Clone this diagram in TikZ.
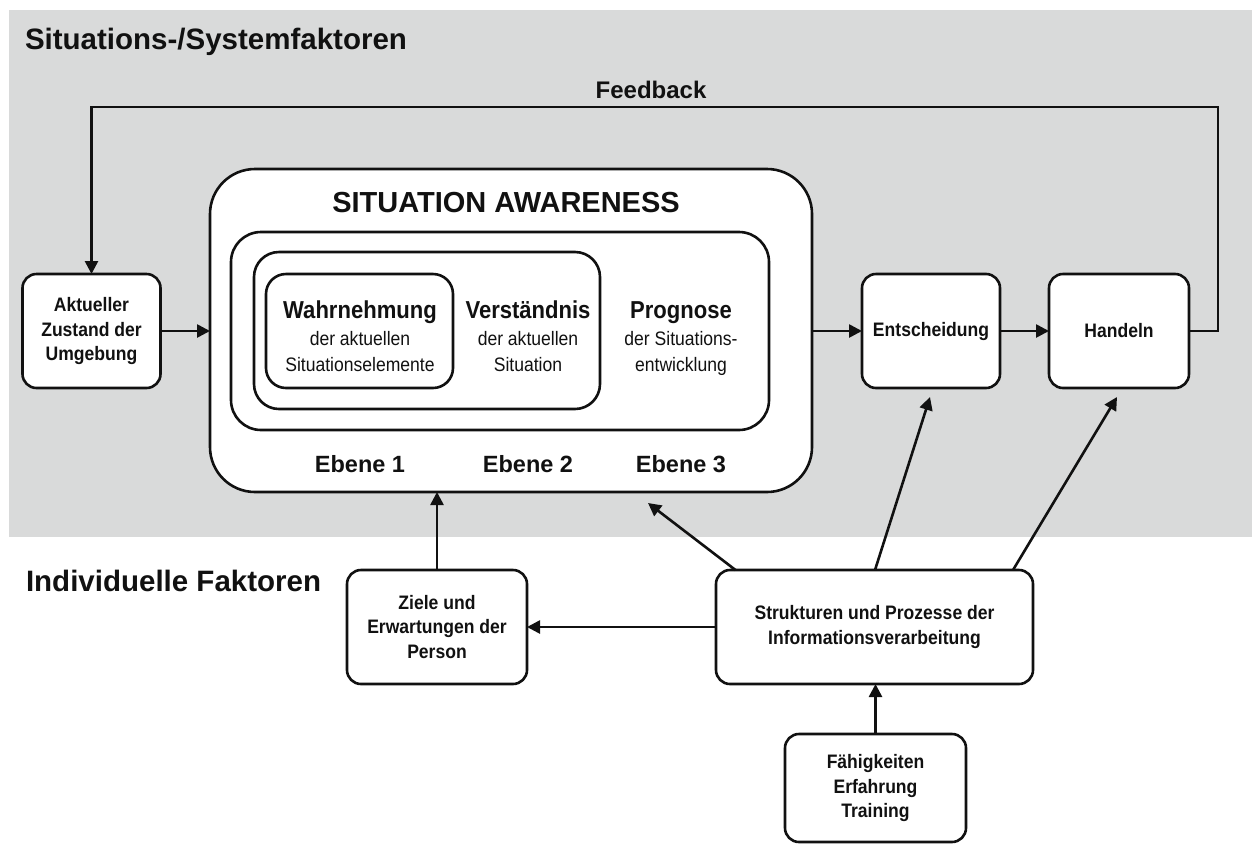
\documentclass[tikz,border=0pt]{standalone}
\usepackage{fontspec}
\setmainfont{Liberation Sans}
\newfontfamily\narrowsf[FakeStretch=0.9]{Liberation Sans}
\usetikzlibrary{arrows.meta,calc}

\definecolor{panelgray}{RGB}{217,218,218}
\definecolor{ink}{RGB}{17,17,17}

\begin{document}
\begin{tikzpicture}[x=1pt,y=-1pt,
  every node/.style={inner sep=0pt, outer sep=0pt, text=ink},
  box/.style={draw=ink, line width=2.6pt, rounded corners=14pt, fill=white,
    align=center, font=\narrowsf\bfseries\fontsize{19.5}{24.5}\selectfont},
  frame/.style={draw=ink, line width=2.6pt, fill=white},
  arr/.style={draw=ink, line width=2.6pt, -{Triangle[length=13pt,width=13pt]}},
  heading/.style={font=\bfseries\fontsize{29.5}{34}\selectfont, anchor=base west},
  levelhead/.style={font=\narrowsf\bfseries\fontsize{24.5}{28}\selectfont, anchor=base},
  levelsub/.style={font=\narrowsf\fontsize{19.5}{26}\selectfont, anchor=base},
  levelname/.style={font=\bfseries\fontsize{23.5}{28}\selectfont, anchor=base}
]
\useasboundingbox (0,0) rectangle (1252,844);

% background panel for situation/system factors
\fill[panelgray] (9,10) rectangle (1252,537);

% section titles
\node[heading] (tsys) at (25,49) {Situations-/Systemfaktoren};
\node[heading] (tind) at (26,591) {Individuelle Faktoren};

% situation awareness frames
\node[frame, rounded corners=45pt, minimum width=602pt, minimum height=323pt] (sa) at (511,330.5) {};
\node[frame, rounded corners=30pt, minimum width=538pt, minimum height=198pt] (lv3) at (500,331) {};
\node[frame, rounded corners=25pt, minimum width=346pt, minimum height=157pt] (lv2) at (427,330.5) {};
\node[frame, rounded corners=20pt, minimum width=187pt, minimum height=114pt] (lv1) at (359.5,331) {};

\node[font=\bfseries\fontsize{29}{34}\selectfont, anchor=base] (satitle) at (506,212) {SITUATION AWARENESS};

\node[levelhead] (wahr) at (360,318) {Wahrnehmung};
\node[levelsub] (wahr1) at (360,345) {der aktuellen};
\node[levelsub] (wahr2) at (360,371) {Situationselemente};

\node[levelhead] (vers) at (528,318) {Verständnis};
\node[levelsub] (vers1) at (528,345) {der aktuellen};
\node[levelsub] (vers2) at (528,371) {Situation};

\node[levelhead] (prog) at (681,318) {Prognose};
\node[levelsub] (prog1) at (681,345) {der Situations-};
\node[levelsub] (prog2) at (681,371) {entwicklung};

\node[levelname] (eb1) at (360,472) {Ebene 1};
\node[levelname] (eb2) at (528,472) {Ebene 2};
\node[levelname] (eb3) at (681,472) {Ebene 3};

% process boxes
\node[box, minimum width=138pt, minimum height=114pt] (akt) at (91.5,331) {Aktueller\\Zustand der\\Umgebung};
\node[box, minimum width=138pt, minimum height=114pt] (ent) at (931,331) {Entscheidung};
\node[box, minimum width=140pt, minimum height=114pt] (han) at (1119,331) {Handeln};
\node[box, minimum width=180pt, minimum height=114pt] (ziele) at (437,627) {Ziele und\\Erwartungen der\\Person};
\node[box, minimum width=317pt, minimum height=114pt] (struk) at (874.5,627) {Strukturen und Prozesse der\\Informationsverarbeitung};
\node[box, minimum width=181pt, minimum height=108pt] (faeh) at (875.5,788) {Fähigkeiten\\Erfahrung\\Training};

% feedback loop
\coordinate (fbR) at (1218,107);
\coordinate (fbL) at (91.5,107);
\node[font=\bfseries\fontsize{24}{28}\selectfont, anchor=base] (fb) at (651,98) {Feedback};
\draw[arr] (han.east) -| (fbR) -- (fbL) -- (akt.north);

% main flow
\draw[arr] (akt.east) -- (akt.east -| sa.west);
\draw[arr] (sa.east |- ent.west) -- (ent.west);
\draw[arr] (ent.east) -- (han.west);

% individual factors
\coordinate (saTip) at (648,503);
\coordinate (entTip) at (930,397);
\coordinate (hanTip) at (1117,397);
\draw[arr] (ziele.north) -- (ziele.north |- sa.south);
\draw[arr] ($(struk.north west)+(19.5,0)$) -- (saTip);
\draw[arr] ($(struk.north)+(0.5,0)$) -- (entTip);
\draw[arr] ($(struk.north west)+(297,0)$) -- (hanTip);
\draw[arr] (struk.west) -- (ziele.east);
\draw[arr] (faeh.north) -- (faeh.north |- struk.south);
\end{tikzpicture}
\end{document}
